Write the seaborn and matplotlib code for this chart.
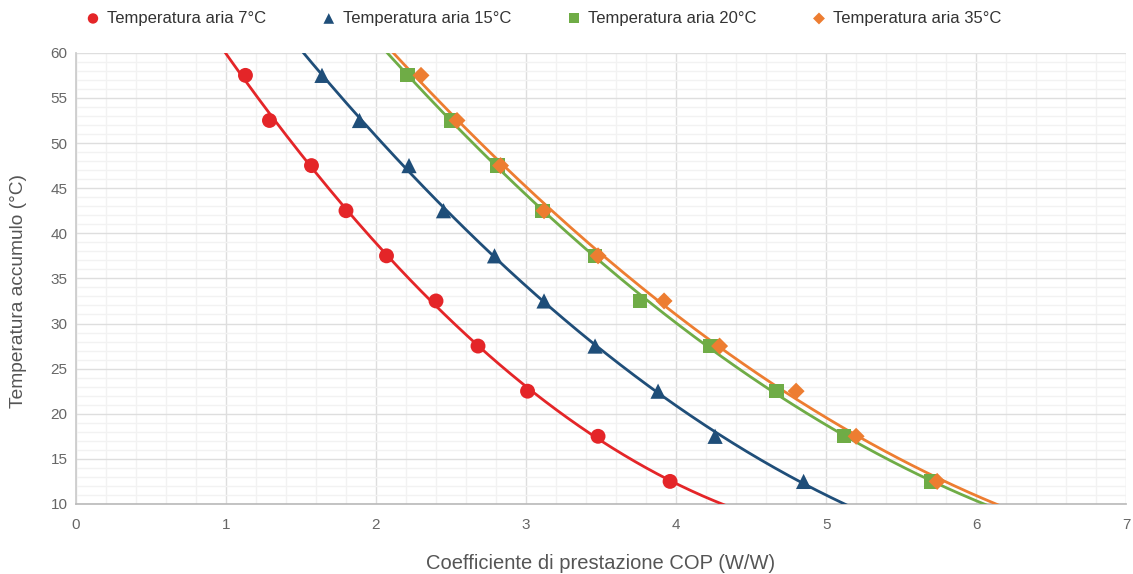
import numpy as np
import pandas as pd
import matplotlib
matplotlib.use("Agg")
import matplotlib.pyplot as plt
import seaborn as sns
from matplotlib.ticker import MultipleLocator

# ---- data ----
temps_accumulo = [57.5, 52.5, 47.5, 42.5, 37.5, 32.5, 27.5, 22.5, 17.5, 12.5]
cop_7 = [1.13, 1.29, 1.57, 1.80, 2.07, 2.40, 2.68, 3.01, 3.48, 3.96]
cop_15 = [1.64, 1.89, 2.22, 2.45, 2.79, 3.12, 3.46, 3.88, 4.26, 4.85]
cop_20 = [2.21, 2.50, 2.81, 3.11, 3.46, 3.76, 4.23, 4.67, 5.12, 5.70]
cop_35 = [2.30, 2.54, 2.83, 3.12, 3.48, 3.92, 4.29, 4.80, 5.20, 5.74]
series_labels = ["Temperatura aria 7°C", "Temperatura aria 15°C",
                 "Temperatura aria 20°C", "Temperatura aria 35°C"]
x_ticks = [0, 1, 2, 3, 4, 5, 6, 7]
y_ticks = [10, 15, 20, 25, 30, 35, 40, 45, 50, 55, 60]

colors = ["#e42528", "#1f4e79", "#6fac46", "#ed7d31"]
markers = ["o", "^", "s", "D"]
sizes = [115, 120, 105, 75]

sns.set_theme(style="white")
plt.rcParams["font.family"] = ["Liberation Sans", "DejaVu Sans"]

fig = plt.figure(figsize=(11.33, 5.74), dpi=100)
ax = fig.add_axes([0.067, 0.122, 0.927, 0.786])

all_cops = [cop_7, cop_15, cop_20, cop_35]
for cop, lab, col, mk, sz in zip(all_cops, series_labels, colors, markers, sizes):
    df = pd.DataFrame({"cop": cop, "t": temps_accumulo})
    # quadratic trend line (temperature as a function of COP), drawn on its
    # decreasing branch only
    coef = np.polyfit(cop, temps_accumulo, 2)
    x_end = min(7.0, -coef[1] / (2 * coef[0]))
    x_grid = np.linspace(0, x_end, 300)
    fit = pd.DataFrame({"cop": x_grid, "t": np.polyval(coef, x_grid)})
    sns.lineplot(data=fit, x="cop", y="t", sort=False, ax=ax, color=col,
                 lw=2.0, zorder=3, legend=False)
    sns.scatterplot(data=df, x="cop", y="t", ax=ax, color=col, marker=mk, s=sz,
                    edgecolor="none", zorder=4, label=lab)

ax.set_xlim(0, 7)
ax.set_ylim(10, 60)
ax.set_xticks(x_ticks)
ax.set_yticks(y_ticks)
ax.xaxis.set_minor_locator(MultipleLocator(0.2))
ax.yaxis.set_minor_locator(MultipleLocator(1))
ax.grid(which="major", color="#dedede", lw=1, zorder=0)
ax.grid(which="minor", color="#f2f2f2", lw=1, zorder=0)
ax.set_axisbelow(True)
for s in ["top", "right"]:
    ax.spines[s].set_visible(False)
ax.spines["left"].set_color("#cccccc")
ax.spines["bottom"].set_color("#bbbbbb")
ax.tick_params(axis="both", which="both", length=0, labelsize=11, colors="#666666")
ax.tick_params(axis="x", pad=10)
ax.tick_params(axis="y", pad=6)

ax.set_xlabel("Coefficiente di prestazione COP (W/W)", fontsize=14.5, color="#555555")
ax.xaxis.set_label_coords(0.5, -0.11)
ax.set_ylabel("Temperatura accumulo (°C)", fontsize=13.8, color="#555555")
ax.yaxis.set_label_coords(-0.0466, 0.471)

leg = ax.legend(loc="lower left", bbox_to_anchor=(-0.002, 1.045), ncol=4, frameon=False,
                fontsize=12, handletextpad=0.1, handlelength=1.5, columnspacing=3.0,
                markerscale=0.7, borderaxespad=0)
for t in leg.get_texts():
    t.set_color("#333333")

fig.savefig("out.png", dpi=100)
